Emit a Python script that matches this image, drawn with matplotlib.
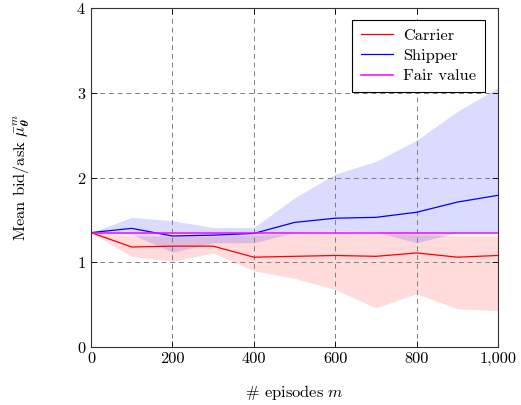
import matplotlib
matplotlib.use("Agg")
import matplotlib.pyplot as plt
from matplotlib.ticker import FuncFormatter

plt.rcParams['font.family'] = 'serif'
plt.rcParams['font.serif'] = ['cmr10', 'DejaVu Serif']
plt.rcParams['mathtext.fontset'] = 'cm'
plt.rcParams['axes.formatter.use_mathtext'] = True
plt.rcParams['font.size'] = 11.8

# data
episodes = [0, 100, 200, 300, 400, 500, 600, 700, 800, 900, 1000]
carrier_mean = [1.35, 1.18, 1.19, 1.19, 1.06, 1.07, 1.08, 1.07, 1.11, 1.06, 1.08]
carrier_low = [1.35, 1.07, 1.01, 1.11, 0.90, 0.81, 0.68, 0.46, 0.63, 0.45, 0.43]
carrier_high = [1.35, 1.31, 1.31, 1.31, 1.32, 1.34, 1.35, 1.34, 1.33, 1.31, 1.31]
shipper_mean = [1.35, 1.40, 1.31, 1.32, 1.34, 1.47, 1.52, 1.53, 1.59, 1.71, 1.79]
shipper_low = [1.35, 1.33, 1.12, 1.23, 1.23, 1.35, 1.37, 1.36, 1.23, 1.35, 1.35]
shipper_high = [1.35, 1.53, 1.49, 1.41, 1.41, 1.76, 2.04, 2.19, 2.44, 2.78, 3.06]
fair_value = [1.35] * len(episodes)

fig = plt.figure(figsize=(5.21, 4.05), dpi=100)
ax = fig.add_axes([0.1747, 0.1432, 0.7812, 0.837])

ax.fill_between(episodes, carrier_low, carrier_high, color='red', alpha=0.14, lw=0)
ax.fill_between(episodes, shipper_low, shipper_high, color='blue', alpha=0.14, lw=0)
ax.plot(episodes, carrier_mean, color='red', lw=0.9, label='Carrier')
ax.plot(episodes, shipper_mean, color='blue', lw=0.9, label='Shipper')
ax.plot(episodes, fair_value, color='magenta', lw=1.1, label='Fair value')

ax.set_xlim(0, 1000)
ax.set_ylim(0, 4)
ax.set_xticks([0, 200, 400, 600, 800, 1000])
ax.set_yticks([0, 1, 2, 3, 4])
ax.xaxis.set_major_formatter(FuncFormatter(lambda v, p: f"{int(v):,}"))
ax.grid(True, linestyle=(0, (5, 4)), color='gray', lw=0.7)
ax.tick_params(direction='in', top=True, right=True, length=4, width=0.6)
for s in ax.spines.values():
    s.set_linewidth(0.8)
    s.set_color('#333333')

ax.set_xlabel('# episodes $m$', labelpad=12)
ax.set_ylabel(r'Mean bid/ask $\bar{\mu}^m_{\boldsymbol{\theta}}$', labelpad=32)

leg = ax.legend(loc='upper right', fancybox=False, edgecolor='black', framealpha=1,
                handlelength=2.0, borderpad=0.5, labelspacing=0.35, handletextpad=0.6,
                bbox_to_anchor=(0.987, 0.988))
leg.get_frame().set_linewidth(0.8)

fig.savefig('out.png', dpi=100)
